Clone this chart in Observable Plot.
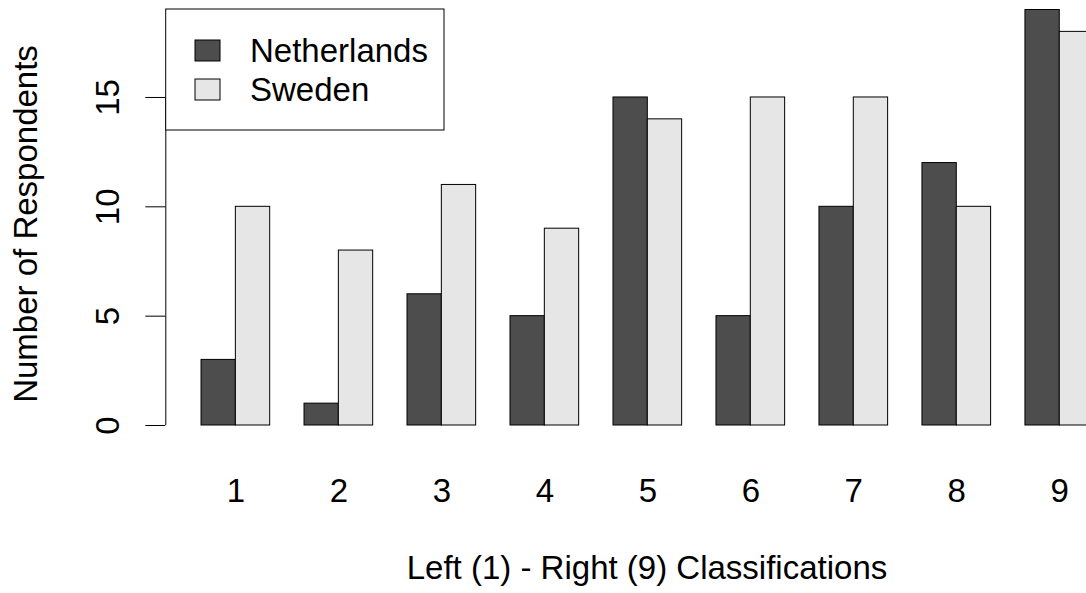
<!DOCTYPE html>
<html>
<head>
<meta charset="utf-8">
<script src="https://cdn.jsdelivr.net/npm/d3@7"></script>
<script src="https://cdn.jsdelivr.net/npm/@observablehq/plot@0.6"></script>
<style>
  html, body { margin: 0; padding: 0; background: white; overflow: hidden; }
  #wrap { position: relative; width: 1086px; height: 593px; }
  #wrap > svg { position: absolute; left: 0; top: 0; }
</style>
</head>
<body>
<div id="wrap"></div>
<script>
// ---- data ----
const classes = ["1", "2", "3", "4", "5", "6", "7", "8", "9"];
const countries = ["Netherlands", "Sweden"];
const netherlands = [3, 1, 6, 5, 15, 5, 10, 12, 19];
const sweden = [10, 8, 11, 9, 14, 15, 15, 10, 18];
const yTicks = [0, 5, 10, 15];
const xTitle = "Left (1) - Right (9) Classifications";
const yTitle = "Number of Respondents";

const rows = classes.flatMap((c, i) => [
  {cls: c, country: countries[0], value: netherlands[i]},
  {cls: c, country: countries[1], value: sweden[i]}
]);

const W = 1086, H = 593;
const common = {
  width: W, height: H,
  marginLeft: 165.3, marginRight: 0, marginTop: 9.5, marginBottom: 168,
  style: {fontFamily: "'Liberation Sans', Arial, Helvetica, sans-serif", fontSize: "33px", color: "black", background: "transparent", overflow: "hidden"}
};

// bars
const bars = Plot.plot({
  ...common,
  fx: {domain: classes, range: [166.7, 1093.6], paddingInner: 1/3, paddingOuter: 1/6, align: 1, round: false,
       axis: "bottom", tickSize: 0, tickPadding: 53, label: null},
  x: {domain: countries, padding: 0, round: false, axis: null},
  y: {domain: [0, 19], axis: null},
  color: {domain: countries, range: ["#4d4d4d", "#e6e6e6"]},
  marks: [
    Plot.barY(rows, {fx: "cls", x: "country", y: "value", fill: "country", stroke: "black", strokeWidth: 1})
  ]
});

// y axis overlay (drawn once, outside facets)
const axis = Plot.plot({
  ...common,
  x: {domain: [0, 1], axis: null},
  y: {domain: [0, 19], ticks: yTicks, tickSize: 20, tickPadding: 27.3, tickRotate: -90, label: null},
  marks: [
    Plot.ruleX([0], {y1: yTicks[0], y2: yTicks[yTicks.length - 1], stroke: "black", strokeWidth: 1})
  ]
});

const wrap = document.getElementById("wrap");
wrap.appendChild(bars);
wrap.appendChild(axis);

const svg = d3.select(axis);
const font = "'Liberation Sans', Arial, Helvetica, sans-serif";

// axis titles
svg.append("text")
  .attr("x", 647).attr("y", 579)
  .attr("text-anchor", "middle")
  .attr("font-family", font).attr("font-size", 33).attr("fill", "black")
  .text(xTitle);
svg.append("text")
  .attr("transform", "translate(37,224) rotate(-90)")
  .attr("text-anchor", "middle")
  .attr("font-family", font).attr("font-size", 33).attr("fill", "black")
  .text(yTitle);

// legend
const colors = ["#4d4d4d", "#e6e6e6"];
const lg = svg.append("g").attr("text-anchor", "start");
lg.append("rect").attr("x", 165.7).attr("y", 9).attr("width", 278.3).attr("height", 121)
  .attr("fill", "white").attr("stroke", "black").attr("stroke-width", 1);
countries.forEach((c, i) => {
  lg.append("rect").attr("x", 195).attr("y", 40 + i * 39).attr("width", 25).attr("height", 21)
    .attr("fill", colors[i]).attr("stroke", "black").attr("stroke-width", 1);
  lg.append("text").attr("x", 250).attr("y", 62 + i * 39)
    .attr("text-anchor", "start")
    .attr("font-family", font).attr("font-size", 33).attr("fill", "black")
    .text(c);
});
</script>
</body>
</html>
